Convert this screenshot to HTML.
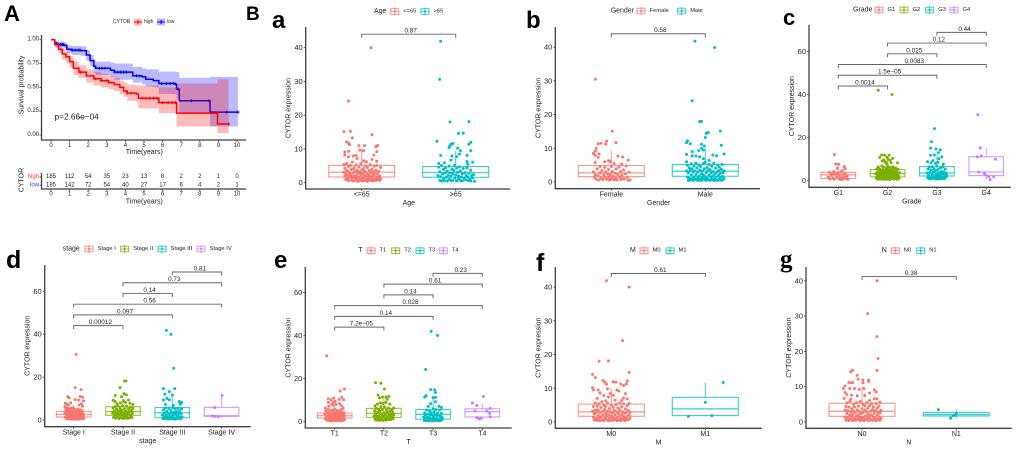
<!DOCTYPE html>
<html lang="en">
<head>
<meta charset="utf-8">
<title>CYTOR survival and expression panels</title>
<style>
html,body{margin:0;padding:0;background:#fff;width:1020px;height:450px;overflow:hidden}
svg{position:absolute;left:0;top:0;filter:blur(.3px)}
text{font-family:"Liberation Sans",sans-serif;fill:#1c1c1c}
</style>
</head>
<body>
<svg id="figure" xmlns="http://www.w3.org/2000/svg" width="1020" height="450" viewBox="0 0 1020 450">
<g style="font-weight:bold">
<text x="4" y="21" font-size="22" style="fill:#000;font-weight:bold">A</text>
<text x="246" y="20" font-size="19" style="fill:#000;font-weight:bold">B</text>
<text x="272" y="28" font-size="24" style="fill:#000;font-weight:bold">a</text>
<text x="526" y="28" font-size="24" style="fill:#000;font-weight:bold">b</text>
<text x="783" y="25" font-size="22" style="fill:#000;font-weight:bold">c</text>
<text x="6" y="268" font-size="25" style="fill:#000;font-weight:bold">d</text>
<text x="274" y="268" font-size="24" style="fill:#000;font-weight:bold">e</text>
<text x="536" y="271" font-size="25" style="fill:#000;font-weight:bold">f</text>
<text x="780" y="267" font-size="25" style="fill:#000;font-weight:bold;font-family:'Liberation Serif',serif">g</text>
</g>
</svg>
<script>
/* ---------- Panel A: survival data ---------- */
const lowTimes=[0,.2,.3,.7,.85,1.1,1.6,1.9,2.1,2.3,2.4,3.2,3.4,4.4,4.9,5.1,5.5,5.8,6.7,6.75,6.9,8.55,10.05];
const lowSurvival=[1,.97,.95,.94,.90,.89,.885,.84,.78,.72,.70,.68,.66,.62,.61,.585,.57,.54,.53,.48,.36,.24,.24];
const lowUpper=[1,.99,.98,.97,.94,.935,.93,.89,.84,.79,.77,.76,.75,.715,.70,.69,.69,.665,.665,.66,.60,.61,.61];
const lowLower=[1,.95,.92,.91,.86,.84,.83,.78,.72,.65,.63,.61,.58,.55,.53,.51,.50,.43,.42,.37,.23,.09,.09];
const highTimes=[0,.2,.4,.6,.8,1,1.2,1.5,1.9,2.3,2.7,3.1,3.4,3.7,3.9,4.1,4.6,4.7,5.8,6.75,8.95,9.55];
const highSurvival=[1,.95,.9,.85,.82,.77,.70,.66,.62,.59,.57,.55,.53,.50,.46,.44,.43,.385,.34,.23,.115,.115];
const highUpper=[1,.97,.94,.9,.87,.83,.77,.73,.69,.66,.64,.62,.60,.57,.55,.53,.52,.52,.50,.54,.585,.585];
const highLower=[1,.92,.86,.79,.76,.71,.63,.60,.55,.52,.50,.48,.46,.43,.40,.36,.34,.28,.23,.09,.02,.02];
const lowCensors=[.4,.5,.6,.65,1.15,1.3,1.45,1.55,2.6,2.75,2.9,3.45,3.6,3.75,3.9,4.05,4.6,4.75,5.95,6.2,6.4,6.6,6.85,7.55,8.5,9.45,10.05];
const highCensors=[1.6,2.4,2.7,3,4.1,4.3,4.9,5.1,5.3,5.5,5.7,6,6.3,6.5,6.7,9.55];
const survivalXTicks=[0,1,2,3,4,5,6,7,8,9,10];
const survivalYTicks=[0,.25,.5,.75,1];
const riskHigh=[185,112,54,35,23,13,8,2,2,1,0];
const riskLow=[185,142,72,54,40,27,17,6,4,2,1];

/* ---------- Panel a: Age ---------- */
const ageCats=["<=65",">65"];
const ageYTicks=[0,10,20,30,40];
const ageBox=[[.3,1.7,3.1,5.1,10],[.3,1.6,3,4.8,9.4]];
const ageBrackets=[[0,1,44,"0.87"]];
const ageYoung=[[.1,40],[-.14,24.2],[-.19,15.1],[-.12,15.2],[.11,14.2],[-.1,13.3],[-.16,12.1],[-.14,11.7],[-.13,11.3],[-.03,11],[.03,11],[.16,10.9],[.17,11],[.15,10.6],[-.14,9.3],[-.18,9.1],[-.02,9.7],[.02,9.5],[.16,9.2],[-.18,8.2],[-.14,7.7],[-.09,7.9],[-.06,8.1],[.13,8.2],[-.05,7.2],[.11,6.9],[.02,6.5],[.05,6.2],[.16,6.4],
[-.19,5.4],[-.19,3.1],[-.18,1.9],[-.18,4.3],[-.17,2.6],[-.17,.9],[-.16,5.7],[-.16,3.6],[-.15,1.3],[-.15,2.2],[-.14,4.8],[-.14,.6],[-.13,3],[-.13,1.7],[-.12,5.1],[-.12,2.4],[-.11,.8],[-.11,3.9],[-.1,1.4],[-.1,6.1],[-.09,2.9],[-.09,.5],[-.08,4.4],[-.08,1.9],[-.07,3.3],[-.07,.7],[-.06,5.3],[-.06,2.1],[-.05,1.2],[-.05,3.7],[-.04,.4],[-.04,2.7],[-.03,4.6],[-.03,1.6],[-.02,3.1],[-.02,.6],[-.01,5.6],[-.01,2.3],[0,1.1],[0,3.8],[.01,.5],[.01,2.6],[.02,4.2],[.02,1.5],[.03,3.4],[.03,.7],[.04,5],[.04,2],[.05,1],[.05,3],[.06,.4],[.06,4.5],[.07,2.4],[.07,1.3],[.08,3.6],[.08,.8],[.09,5.4],[.09,1.8],[.1,2.8],[.1,.6],[.11,4],[.11,1.2],[.12,3.2],[.12,.5],[.13,2.2],[.13,4.9],[.14,1],[.14,2.9],[.15,.7],[.15,3.7],[.16,1.6],[.16,5.1],[.17,2.5],[.17,.9],[.18,1.3],[.18,3.4],[.19,.7],[.19,2],[.2,1.1],[.2,4.5],[-.11,2.1],[-.07,1.5],[-.04,3.3],[-.01,1.3],[.03,2.2],[.06,1.7],[.09,3.3],[.12,2.1],[-.15,3.5],[-.09,4.1]];
const ageOld=[[-.16,41.9],[-.17,30.6],[-.06,18],[.14,18.1],[.03,14.6],[.08,14.7],[-.2,12.3],[.16,12],[.14,11.4],[-.03,11.6],[-.05,11.4],[-.06,11],[-.07,10.4],[.02,10.2],[.05,9.5],[.16,9.5],[-.16,8.1],[.04,8.5],[.12,8.1],[-.04,7.9],[.01,7.7],[-.05,6.7],[.12,6.3],[.18,6.1],[.13,5.5],[-.12,5.9],[-.18,5.7],
[-.19,2.1],[-.18,4.6],[-.17,.7],[-.17,3.2],[-.16,1.8],[-.15,5.1],[-.15,.5],[-.14,2.6],[-.13,3.9],[-.13,1.2],[-.12,.6],[-.11,2.9],[-.11,4.4],[-.1,1.6],[-.09,.5],[-.09,3.4],[-.08,2.2],[-.07,4.9],[-.07,1],[-.06,3],[-.05,.7],[-.05,1.9],[-.04,4],[-.03,2.6],[-.03,.6],[-.02,3.6],[-.01,1.4],[-.01,5.2],[0,2.3],[.01,.5],[.01,4.3],[.02,3.1],[.03,1.1],[.03,2],[.04,4.7],[.05,.7],[.05,3.5],[.06,1.7],[.07,2.6],[.07,.5],[.08,4.2],[.09,1.3],[.1,3],[.1,.9],[.11,2.1],[.12,4.4],[.13,.6],[.13,1.7],[.14,2.8],[.15,1],[.16,3.7],[.16,.5],[.17,2.1],[.18,1.4],[.19,2.4],[.2,.4]];

/* ---------- Panel b: Gender ---------- */
const genderCats=["Female","Male"];
const genderYTicks=[0,10,20,30,40];
const genderBox=[[.3,1.6,2.7,4.9,9.3],[.3,1.7,3.2,5.2,10]];
const genderBrackets=[[0,1,44,"0.58"]];
const genderFemale=[[-.17,30.5],[.01,15.1],[-.05,12.1],[.05,11.7],[-.06,11.2],[-.11,11.5],[-.14,11.3],[-.16,10],[-.17,9.2],[-.19,8.5],[-.13,8.3],[-.17,7.9],[-.14,7.3],[.12,7.4],[.07,7.7],[.18,6.5],[-.17,5.8],[-.07,6],[-.03,6.3],[-.01,6.1],[.03,5.5],[.11,5.3],
[-.19,3],[-.18,1.4],[-.17,2.1],[-.16,.8],[-.15,3.9],[-.14,1.9],[-.13,.6],[-.12,4.6],[-.12,2.7],[-.11,1.2],[-.1,3.4],[-.09,.7],[-.08,2.1],[-.07,4.3],[-.07,1.4],[-.06,3],[-.05,.8],[-.04,2.4],[-.03,1.5],[-.03,3.7],[-.02,.6],[-.01,2.2],[0,4.6],[0,1],[.01,3.1],[.02,1.7],[.03,.7],[.04,2.6],[.05,3.9],[.05,1.2],[.06,.6],[.07,2.2],[.08,4.4],[.09,1.5],[.1,3.1],[.1,.7],[.11,2],[.12,1],[.13,3.6],[.14,.9],[.15,2.4],[.16,4.8],[.17,1.4],[.18,.5],[.19,2.9],[.2,.6]];
const genderMale=[[-.11,41.8],[.1,39.9],[-.14,24.1],[-.06,17.9],[-.04,18],[.16,15.1],[.02,14.6],[.01,14.4],[.03,14.7],[0,13.2],[-.19,12.2],[-.2,11.7],[-.16,11.4],[-.04,11.2],[.17,10.9],[-.01,10.7],[-.04,10],[-.14,9],[-.07,9.3],[-.02,9.5],[-.2,8.2],[-.14,7.8],[-.1,7.7],[.08,8],[.12,7.8],[.2,8.3],[-.06,7.5],[-.02,6.9],[.04,6.4],
[-.2,6],[-.2,3.3],[-.19,1.5],[-.19,5],[-.18,.5],[-.18,2.7],[-.17,4.2],[-.17,1.1],[-.16,3.4],[-.16,.6],[-.15,5.4],[-.15,2.1],[-.14,1],[-.14,3.9],[-.13,.5],[-.13,2.9],[-.12,4.7],[-.12,1.5],[-.11,.8],[-.11,3.3],[-.1,5.6],[-.1,2.2],[-.09,.6],[-.09,4.2],[-.08,1.3],[-.08,2.9],[-.07,5.1],[-.07,.5],[-.06,3.6],[-.06,1.8],[-.05,.9],[-.05,4.6],[-.04,2.5],[-.04,.5],[-.03,3.3],[-.03,1.3],[-.02,5.5],[-.02,2.1],[-.01,.7],[-.01,3.9],[0,1.6],[0,5.9],[.01,.5],[.01,2.8],[.02,4.3],[.02,1.1],[.03,3.4],[.03,.7],[.04,5.2],[.04,2],[.05,.5],[.05,3.7],[.06,1.4],[.06,2.7],[.07,4.7],[.07,.8],[.08,3.1],[.08,1.8],[.09,.5],[.09,5.6],[.1,2.4],[.1,1],[.11,4.1],[.11,.6],[.12,2.9],[.12,1.5],[.13,5],[.13,.5],[.14,3.4],[.14,2],[.15,.8],[.15,4.4],[.16,1.3],[.16,2.6],[.17,.5],[.17,3.8],[.18,1.7],[.18,5.2],[.19,.7],[.19,2.8],[.2,1.1],[.2,3.3]];

/* ---------- Panel c: Grade ---------- */
const gradeCats=["G1","G2","G3","G4"];
const gradeYTicks=[0,20,40,60];
const gradeBox=[[.2,.8,2.6,3.7,7],[.2,1.6,3.1,5,10],[.3,2,3.4,6.4,12],[.3,2.2,3.9,11,15]];
const gradeBrackets=[[2,3,69,"0.44"],[1,3,64,"0.12"],[1,2,59,"0.025"],[0,3,54,"0.0083"],[0,2,49,"1.5e\u221205"],[0,1,44,"0.0014"]];
const gradeOne=[[-.08,12],[-.05,7.6],[.01,7.5],[-.18,3.7],[.12,6.4],[.14,5.4],[-.02,5.6],[-.09,4.1],[.08,4.5],[-.2,1.5],[-.17,.6],[-.14,2.3],[-.11,1.1],[-.08,.5],[-.06,2.8],[-.03,1.6],[-.01,3.4],[.02,.7],[.03,2.2],[.05,3.9],[.07,1.2],[.09,.5],[.1,2.7],[.12,1.5],[.14,3.1],[.16,.8],[.18,2],[.2,.5],[-.12,3.3],[.04,.4]];
const gradeTwo=[[-.19,42],[.09,40],[-.12,11.8],[-.06,11.7],[.03,11.7],[-.16,10.7],[-.01,10.7],[-.08,9.5],[.01,9.8],[-.03,7.9],[.07,8.2],[.2,8.1],[-.11,9],[-.05,8.7],[.05,9.3],[.1,10.2],
[-.24,3.1],[-.23,1.1],[-.22,5.3],[-.21,2.2],[-.2,.5],[-.2,4],[-.19,6.2],[-.18,1.7],[-.17,3.2],[-.16,.6],[-.16,5.1],[-.15,2.5],[-.14,4.2],[-.13,1.1],[-.12,6.6],[-.12,3],[-.11,.5],[-.1,5],[-.1,1.9],[-.09,3.8],[-.08,.9],[-.08,6.2],[-.07,2.7],[-.06,4.6],[-.05,1.3],[-.05,.4],[-.04,3.4],[-.03,5.6],[-.03,2],[-.02,.7],[-.01,4.3],[-.01,1.3],[0,6.7],[0,3],[.01,.5],[.01,5],[.02,2.1],[.03,3.9],[.03,1],[.04,6],[.05,2.7],[.05,.4],[.06,4.7],[.07,1.5],[.07,3.4],[.08,.8],[.09,5.6],[.09,2.2],[.1,4],[.11,1],[.11,6.2],[.12,3],[.13,.5],[.13,5],[.14,1.9],[.15,3.7],[.16,.9],[.16,5.8],[.17,2.6],[.18,4.3],[.19,1.3],[.2,.5],[.2,3.2],[.21,5.2],[.22,2],[.23,.9],[.24,3.6]];
const gradeThree=[[-.05,24.1],[-.11,18],[-.13,15],[-.02,14.6],[.07,14.2],[.03,12.9],[-.13,11.7],[-.05,11.8],[.1,11],[-.19,8.7],[-.12,8.2],[-.03,7.9],[.13,7.5],[-.08,9.2],[.04,10.1],[.02,8.4],
[-.2,3.4],[-.19,1.3],[-.18,5.2],[-.17,2.4],[-.16,.8],[-.15,6.2],[-.14,3.7],[-.13,1.6],[-.12,4.8],[-.11,.7],[-.1,2.8],[-.09,6.4],[-.08,1.2],[-.07,3.9],[-.06,5.4],[-.05,2.1],[-.04,.7],[-.03,4.4],[-.02,1.6],[-.01,3],[0,6.6],[0,.6],[.01,2.3],[.02,5],[.03,1.2],[.04,3.6],[.05,.6],[.06,2.6],[.07,5.8],[.08,1.6],[.09,4.1],[.1,.8],[.11,3],[.12,6.2],[.13,1.7],[.14,3.9],[.15,.8],[.16,2.7],[.17,5.2],[.18,1.4],[.19,3.3],[.2,2.1]];
const gradeFour=[[-.17,30.6],[-.12,15.1],[-.18,10.9],[-.1,11.4],[.19,9.8],[-.15,3.9],[-.04,3.3],[-.01,2.5],[.05,1.7],[.15,1.6],[.08,.3],[-.03,3]];

/* ---------- Panel d: stage ---------- */
const stageCats=["Stage I","Stage II","Stage III","Stage IV"];
const stageYTicks=[0,20,40,60];
const stageBox=[[.3,1.4,2.6,4,7],[.4,2.2,3.9,6.2,10],[.3,1.1,3.4,5.8,11.5],[1.6,1.7,2,5.9,11.7]];
const stageBrackets=[[2,3,69,"0.81"],[1,3,64,"0.73"],[1,2,59,"0.14"],[0,3,54,"0.56"],[0,2,49,"0.097"],[0,1,44,"0.00012"]];
const stageOne=[[.05,30.6],[.03,15.1],[.15,14.2],[-.12,10.9],[-.09,10.3],[.13,11],[.18,10.6],[.03,9.5],[.1,9.3],[.2,9],[-.17,7.8],[-.11,7],[.11,7],[-.15,7.4],[.16,7.6],[-.06,8],[.18,6.4],[-.18,6.2],
[-.18,3.2],[-.17,1.3],[-.16,4.9],[-.15,2.4],[-.14,.6],[-.14,3.9],[-.13,5.6],[-.12,1.6],[-.11,3],[-.1,.5],[-.1,4.6],[-.09,2.1],[-.08,5.3],[-.07,1],[-.07,3.6],[-.06,.4],[-.05,2.7],[-.05,4.4],[-.04,1.4],[-.03,5.6],[-.03,.6],[-.02,3.1],[-.01,2],[-.01,.4],[0,4.2],[0,1.2],[.01,2.8],[.02,5.2],[.02,.6],[.03,1.8],[.04,3.6],[.05,.4],[.05,2.5],[.06,4.6],[.07,1.1],[.07,3.2],[.08,.6],[.09,2.1],[.09,5],[.1,1.3],[.11,3.9],[.11,.4],[.12,2.7],[.13,1.5],[.13,4.8],[.14,.6],[.15,3.3],[.16,2],[.16,.9],[.17,4.2],[.18,1.4],[.18,.5],[.19,3],[.2,2],[.2,.7]];
const stageTwo=[[.03,18.2],[.06,18.2],[-.06,15.1],[.02,12.3],[-.16,11.4],[-.03,10.9],[.07,11.7],[-.2,9.2],[-.16,8.6],[.01,9],[.11,9.3],[.2,7.2],[-.12,7.6],[-.05,8],[.05,8.2],[.14,7.8],
[-.21,3.2],[-.2,5.6],[-.19,1.2],[-.18,4.2],[-.17,2.4],[-.16,6.2],[-.15,.8],[-.14,3.4],[-.13,5],[-.12,1.6],[-.11,2.8],[-.1,6.6],[-.09,4.2],[-.08,.7],[-.07,2.2],[-.06,5.4],[-.05,3.4],[-.04,1.1],[-.03,4.6],[-.02,2.5],[-.01,6.6],[0,.7],[.01,3.6],[.02,1.7],[.03,5.2],[.04,2.8],[.05,.9],[.06,4.2],[.07,6.4],[.08,2],[.09,3.2],[.1,.8],[.11,5.2],[.12,2.6],[.13,3.9],[.14,1.1],[.15,6],[.16,2.2],[.17,4.4],[.18,1.2],[.19,3.2],[.2,5.4]];
const stageThree=[[-.12,41.8],[-.03,40],[.03,24.1],[-.18,14.6],[.05,14.6],[-.06,13.2],[-.15,12],[0,11.7],[-.18,9.3],[-.11,10.1],[.14,8.6],[.19,8.2],[-.06,9.4],[.16,7.4],[-.14,7.2],[.02,6.8],
[-.2,2.4],[-.19,.7],[-.18,4.7],[-.17,1.4],[-.16,3.3],[-.15,.5],[-.14,5.6],[-.13,2.2],[-.12,.9],[-.11,4],[-.1,1.6],[-.09,.4],[-.08,3],[-.07,5.4],[-.06,1.1],[-.05,2.5],[-.04,.5],[-.03,4.4],[-.02,1.7],[-.01,3.4],[0,.5],[.01,5.6],[.02,2.2],[.03,1],[.04,3.5],[.05,.4],[.06,5.1],[.07,2.6],[.08,1.1],[.09,3.9],[.1,.5],[.11,1.8],[.12,5.4],[.13,2.9],[.14,.8],[.15,4.2],[.16,1.5],[.17,.5],[.18,3],[.19,5.2],[.2,1.4]];
const stageFour=[[.01,11.5],[-.14,5.8],[-.19,1.9],[-.14,1.7],[-.07,1.6]];

/* ---------- Panel e: T ---------- */
const tCats=["T1","T2","T3","T4"];
const tYTicks=[0,20,40,60];
const tBox=[[.3,1.7,2.8,4,7],[.4,2,3.9,6.2,11],[.3,1.2,3.4,5.7,11],[1.2,2.2,4.7,6,8.5]];
const tBrackets=[[2,3,69,"0.23"],[1,3,64,"0.61"],[1,2,59,"0.14"],[0,3,54,"0.028"],[0,2,49,"0.14"],[0,1,44,"7.2e\u221205"]];
const tOne=[[-.16,30.6],[.2,15.2],[.11,14.3],[.14,11.4],[-.02,11],[-.13,10.6],[-.07,10.1],[.09,10.3],[.18,10.2],[.01,9.5],[-.13,9],[-.06,8.2],[-.03,7.6],[-.12,7.2],[.1,8.4],[.03,8],[.14,7.4],[-.19,6.4],[.17,6.2],[-.02,9],
[-.2,3.6],[-.19,1.4],[-.18,5],[-.17,2.5],[-.16,.7],[-.15,4.1],[-.14,1.7],[-.13,5.7],[-.12,3],[-.11,.5],[-.11,2.1],[-.1,4.6],[-.09,1.1],[-.08,3.6],[-.07,.4],[-.07,2.6],[-.06,5.4],[-.05,1.5],[-.04,3.2],[-.03,.6],[-.03,4.6],[-.02,2.1],[-.01,1.1],[0,3.6],[0,5.8],[.01,.5],[.02,2.6],[.02,4.2],[.03,1.4],[.04,3.1],[.05,.5],[.05,5.2],[.06,2],[.07,3.9],[.07,.9],[.08,1.6],[.09,2.9],[.09,4.8],[.1,.5],[.11,2.3],[.12,3.7],[.12,1.1],[.13,5.6],[.14,.5],[.15,2.8],[.15,4.4],[.16,1.4],[.17,3.2],[.18,.7],[.18,2],[.19,4.1],[.2,1.1],[.2,2.8]];
const tTwo=[[-.17,18.2],[-.06,17.9],[.01,15.2],[-.12,12.4],[-.03,11.5],[.04,11.5],[.1,11.8],[-.09,11.1],[.07,10.4],[-.13,8.2],[-.07,8.8],[-.02,8.4],[.04,9],[.12,8.2],[.2,6.4],[-.18,7.4],
[-.2,2.6],[-.19,5],[-.18,1.1],[-.17,3.6],[-.16,6.2],[-.15,.7],[-.14,2.4],[-.13,4.4],[-.12,1.4],[-.11,5.8],[-.1,3],[-.09,.6],[-.08,4.8],[-.07,2],[-.06,7],[-.05,1.1],[-.04,3.4],[-.03,5.6],[-.02,.6],[-.01,2.4],[0,4.2],[.01,6.8],[.02,1.4],[.03,3.2],[.04,.7],[.05,5.3],[.06,2.2],[.07,4.2],[.08,1.1],[.09,6.4],[.1,3],[.11,.9],[.12,5],[.13,2.2],[.14,3.6],[.15,1],[.16,5.6],[.17,2.4],[.18,4.4],[.19,1.5],[.2,3.1]];
const tThree=[[-.04,42],[.09,40.1],[-.15,24.3],[-.05,14.9],[.03,14.8],[.05,13.5],[-.14,12.1],[-.17,11.5],[0,11.2],[.05,9.3],[.05,11.3],[-.05,8.4],[.12,7.2],[.17,6.6],[-.1,7.1],
[-.19,2.2],[-.18,.6],[-.17,4.1],[-.16,1.4],[-.15,3],[-.14,.5],[-.13,5.4],[-.12,2],[-.11,.9],[-.1,3.6],[-.09,.4],[-.08,1.6],[-.07,5],[-.06,2.8],[-.05,.7],[-.04,4.2],[-.03,1.4],[-.02,.4],[-.01,3.1],[0,6],[0,1],[.01,2.1],[.02,4.6],[.03,.5],[.04,3.3],[.05,1.3],[.06,5.6],[.07,.6],[.08,2.5],[.09,4],[.1,1],[.11,.4],[.12,3],[.13,5.4],[.14,1.5],[.15,.6],[.16,2.4],[.17,3.9],[.18,.9],[.19,1.8]];
const tFour=[[.02,11.7],[-.2,8.7],[-.11,7.6],[.16,6.2],[-.15,5],[.09,5],[.15,3.9],[.16,2.3],[-.11,1.9],[-.06,1.2],[-.02,1.6]];

/* ---------- Panel f: M ---------- */
const mCats=["M0","M1"];
const mYTicks=[0,10,20,30,40];
const mBox=[[.3,1.7,3,5.3,10],[1.7,1.9,3.9,7.3,11.7]];
const mBrackets=[[0,1,44,"0.61"]];
const mZero=[[-.05,41.9],[.19,40],[.12,24.1],[-.13,18],[-.03,18.1],[.19,14.7],[-.2,14.1],[-.17,13.2],[.17,12.2],[-.09,12.3],[-.07,11.8],[-.05,11.2],[.02,11.9],[.05,11.8],[.1,11.3],[.16,11.3],[.13,10.8],[-.2,10.2],[-.19,9.5],[-.14,9.5],[-.04,9.8],[.06,9.5],[.08,9.2],[-.12,8.6],[-.01,8.4],[.15,8.4],[-.08,7.8],[-.03,7.4],[.02,7.9],[.13,7.1],[.17,6.8],[-.15,7],[.11,6.4],[-.06,6.3],[.04,6.5],
[-.2,3.2],[-.19,1.4],[-.19,4.6],[-.18,.6],[-.18,2.4],[-.17,5.6],[-.17,3.6],[-.16,1],[-.16,2.9],[-.15,4.7],[-.15,.5],[-.14,2],[-.14,3.6],[-.13,5.4],[-.13,1.2],[-.12,.4],[-.12,2.8],[-.11,4.3],[-.11,1.6],[-.1,6],[-.1,.7],[-.09,3.2],[-.09,2.1],[-.08,5],[-.08,.4],[-.07,1.2],[-.07,3.7],[-.06,2.5],[-.06,4.6],[-.05,.7],[-.05,1.7],[-.04,3.2],[-.04,5.6],[-.03,.4],[-.03,2.2],[-.02,4],[-.02,1.1],[-.01,3],[-.01,.6],[0,5],[0,1.8],[.01,2.7],[.01,.4],[.02,4.4],[.02,1.2],[.03,3.5],[.03,.7],[.04,2.2],[.05,5.2],[.05,1],[.06,.4],[.06,3],[.07,4.2],[.07,1.6],[.08,.6],[.08,2.5],[.09,5.6],[.09,3.6],[.1,1.1],[.1,.4],[.11,2.1],[.11,4.5],[.12,3],[.12,.8],[.13,1.6],[.13,5.4],[.14,.4],[.14,2.6],[.15,3.9],[.15,1.1],[.16,.6],[.16,2.9],[.17,4.8],[.17,1.7],[.18,.7],[.18,3.4],[.19,2.1],[.19,5.5],[.2,1.1],[.2,2.9]];
const mOne=[[.19,11.7],[0,5.8],[-.18,1.7],[.07,1.9]];

/* ---------- Panel g: N ---------- */
const nCats=["N0","N1"];
const nYTicks=[0,10,20,30,40];
const nBox=[[.3,1.6,3,5.3,10],[1.1,1.7,2.1,2.7,3.5]];
const nBrackets=[[0,1,41.2,"0.38"]];
const nZero=[[.16,40],[.06,30.7],[.16,24.2],[.17,18],[.16,14.6],[-.1,14.7],[-.12,14.2],[-.05,13.2],[-.04,12.1],[.01,11.9],[.07,11.9],[.07,11.5],[-.14,11.2],[-.12,11.1],[-.1,11.2],[.01,11.1],[-.18,10.2],[-.2,9.5],[-.13,9.5],[-.08,9.5],[-.03,9.2],[.02,9.5],[.13,9.1],[.15,8.5],[.08,8.2],[-.18,8.4],[-.16,7.8],[-.11,7.6],[-.05,7.4],[.03,7.5],[-.19,6.7],[-.12,6.4],[.13,6.6],[.16,6.5],[.08,6.1],[.19,5.6],
[-.18,3.4],[-.18,1.4],[-.17,4.4],[-.17,.5],[-.16,2.4],[-.16,5.4],[-.15,1.1],[-.15,3.2],[-.14,.4],[-.14,4.2],[-.13,1.9],[-.13,5.8],[-.12,2.9],[-.12,.8],[-.11,3.8],[-.11,1.4],[-.1,.4],[-.1,2.2],[-.09,5],[-.09,3.1],[-.08,1],[-.08,4.2],[-.07,.5],[-.07,2.6],[-.06,1.6],[-.06,5.5],[-.05,3.4],[-.05,.7],[-.04,2],[-.04,4.5],[-.03,1.1],[-.03,3],[-.02,.4],[-.02,5.8],[-.01,2.4],[-.01,1.4],[0,3.8],[0,.7],[.01,5],[.01,2.7],[.02,1.2],[.02,.4],[.03,3.4],[.03,4.6],[.04,1.8],[.04,.7],[.05,2.8],[.05,5.5],[.06,1.1],[.06,3.9],[.07,.4],[.07,2.2],[.08,4.6],[.08,1.4],[.09,3],[.09,.7],[.1,5.1],[.1,2],[.11,.5],[.11,3.5],[.12,1.4],[.12,4.3],[.13,2.5],[.13,.6],[.14,3.2],[.14,1.1],[.15,.4],[.15,5.2],[.16,2],[.16,3.9],[.17,.7],[.17,2.8],[.18,1.4],[.18,4.5],[.19,.5],[.19,2.5],[.2,1],[.2,3.3]];
const nOne=[[-.19,3.5],[-.06,1.1],[-.02,2],[0,2.3],[-.03,1.8]];

/* ---------- Drawing ---------- */
const SVG_NS="http://www.w3.org/2000/svg";
const root=document.getElementById("figure");
const AXIS_COLOR="#3f3f3f";
const GGPLOT2=["#F8766D","#00BFC4"];
const GGPLOT4=["#F8766D","#7CAE00","#00BFC4","#C77CFF"];

function svgEl(parent,tag,props){
  const el=document.createElementNS(SVG_NS,tag);
  for(const k in props)el.setAttribute(k,props[k]);
  parent.appendChild(el);
  return el;
}
function addLine(parent,x1,y1,x2,y2,color,width){
  return svgEl(parent,"line",{x1:x1,y1:y1,x2:x2,y2:y2,stroke:color,"stroke-width":width});
}
function addText(parent,x,y,str,size,anchor,color,rotate){
  const t=svgEl(parent,"text",{x:x,y:y,"font-size":size,"text-anchor":anchor||"start","dominant-baseline":"central"});
  if(color)t.style.fill=color;
  if(rotate)t.setAttribute("transform","rotate(-90 "+x+" "+y+")");
  t.textContent=str;
  return t;
}

/* Panel A survival curves */
const survX=t=>51+18.6*t;
const survY=s=>135-95.3*s;
function stepPoints(times,vals){
  const pts=[];
  times.forEach((t,i)=>{
    if(i>0)pts.push([survX(t),survY(vals[i-1])]);
    pts.push([survX(t),survY(vals[i])]);
  });
  return pts;
}
function stepValue(times,vals,t){
  let v=vals[0];
  times.forEach((k,i)=>{if(k<=t)v=vals[i];});
  return v;
}
function drawSurvivalSeries(g,label,color,times,surv,upper,lower,censors){
  const top=stepPoints(times,upper);
  const bot=stepPoints(times,lower).reverse();
  const band=svgEl(g,"polygon",{points:top.concat(bot).map(p=>p.join(",")).join(" "),fill:color,"fill-opacity":.27,stroke:"none"});
  
  
  const line=svgEl(g,"polyline",{points:stepPoints(times,surv).map(p=>p.join(",")).join(" "),fill:"none",stroke:color,"stroke-width":1.5});
  
  
  censors.forEach(t=>{
    const x=survX(t),y=survY(stepValue(times,surv,t));
    const c=svgEl(g,"path",{d:"M"+(x-1.6)+" "+y+"H"+(x+1.6)+"M"+x+" "+(y-1.6)+"V"+(y+1.6),stroke:color,"stroke-width":1,fill:"none"});
    
    
  });
}
function drawSurvivalPanel(){
  const g=svgEl(root,"g",{});
  
  

  const legend=svgEl(g,"g",{});
  
  
  addText(legend,113,22,"CYTOR",5,"start");
  [["high","#ff0000",134,144],["low","#0000ff",157,167]].forEach(e=>{
    const k=svgEl(legend,"rect",{x:e[2],y:18.5,width:8,height:7,fill:e[1],"fill-opacity":.27});
    
    
    addLine(legend,e[2],22,e[2]+8,22,e[1],1);
    addLine(legend,e[2]+4,20,e[2]+4,24,e[1],1);
    const lab=addText(legend,e[3],22,e[0],5,"start");
    
    
  });

  drawSurvivalSeries(g,"low","#0000ff",lowTimes,lowSurvival,lowUpper,lowLower,lowCensors);
  drawSurvivalSeries(g,"high","#ff0000",highTimes,highSurvival,highUpper,highLower,highCensors);

  const yAxis=addLine(g,41.5,35,41.5,140.5,AXIS_COLOR,1.3);
  
  
  const xAxis=addLine(g,41,140,246,140,AXIS_COLOR,1.3);
  
  
  survivalYTicks.forEach(s=>{
    addLine(g,39.5,survY(s),41.5,survY(s),AXIS_COLOR,.8);
    const t=addText(g,39,survY(s),s.toFixed(2),6,"end");
    
    
  });
  survivalXTicks.forEach(v=>{
    addLine(g,survX(v),140,survX(v),142,AXIS_COLOR,.8);
    const t=addText(g,survX(v),146,String(v),6,"middle");
    
    
  });
  const xt=addText(g,144.3,152.7,"Time(years)",7,"middle");
  
  
  const yt=addText(g,22,85,"Survival probability",7,"middle",null,true);
  
  
  const p=addText(g,54.5,116.7,"p=2.66e\u221204",8.3,"start");
  
  

  /* risk table */
  const rt=svgEl(g,"g",{});
  
  
  addLine(rt,41.5,173,41.5,189.5,AXIS_COLOR,1.3);
  addLine(rt,41,189,246,189,AXIS_COLOR,1.3);
  addLine(rt,39.5,177,41.5,177,AXIS_COLOR,.8);
  addLine(rt,39.5,185.3,41.5,185.3,AXIS_COLOR,.8);
  addText(rt,39,177,"high",6,"end","#ff3030");
  addText(rt,39,185.3,"low",6,"end","#3030ff");
  addText(rt,22,180,"CYTOR",7,"middle",null,true);
  survivalXTicks.forEach((v,i)=>{
    addLine(rt,survX(v),189,survX(v),191,AXIS_COLOR,.8);
    addText(rt,survX(v),194.5,String(v),6,"middle");
    const a=addText(rt,survX(v),177,String(riskHigh[i]),6,"middle");
    
    
    const b=addText(rt,survX(v),185.3,String(riskLow[i]),6,"middle");
    
    
  });
  addText(rt,144.3,202,"Time(years)",7,"middle");
}

/* Panels a-g box and jitter plots */
function drawBoxPanel(p){
  const g=svgEl(root,"g",{});
  
  
  const colors=p.cats.length===2?GGPLOT2:GGPLOT4;
  const yS=v=>p.zeroY-v*p.unit;
  const xS=i=>p.firstX+i*p.spacing;

  /* legend */
  const leg=svgEl(g,"g",{});
  
  
  addText(leg,p.legendTitleX,p.legendY,p.title,7,"start");
  p.cats.forEach((c,i)=>{
    const kx=p.legendKeys[i];
    const ky=p.legendY;
    const key=svgEl(leg,"g",{});
    
    
    svgEl(key,"rect",{x:kx,y:ky-2.8,width:8,height:5.6,fill:"#fff",stroke:colors[i],"stroke-width":.9,"stroke-opacity":.85});
    addLine(key,kx+4,ky-4,kx+4,ky+4,colors[i],.7);
    addLine(key,kx,ky,kx+8,ky,colors[i],.7);
    svgEl(key,"circle",{cx:kx+4,cy:ky,r:1.1,fill:colors[i]});
    const lab=addText(leg,kx+12.5,ky,c,5.8,"start");
    
    
  });

  /* boxes */
  p.box.forEach((b,i)=>{
    const cx=xS(i);
    const bg=svgEl(g,"g",{});
    
    
    const o=.78;
    const a=addLine(bg,cx,yS(b[0]),cx,yS(b[1]),colors[i],1);
    a.setAttribute("stroke-opacity",o);
    const c=addLine(bg,cx,yS(b[3]),cx,yS(b[4]),colors[i],1);
    c.setAttribute("stroke-opacity",o);
    svgEl(bg,"rect",{x:cx-p.boxHalf,y:yS(b[3]),width:2*p.boxHalf,height:yS(b[1])-yS(b[3]),fill:"none",stroke:colors[i],"stroke-width":1.1,"stroke-opacity":o});
    const m=addLine(bg,cx-p.boxHalf,yS(b[2]),cx+p.boxHalf,yS(b[2]),colors[i],1.2);
    m.setAttribute("stroke-opacity",o);
  });

  /* jitter points */
  p.groups.forEach((pts,i)=>{
    const pg=svgEl(g,"g",{});
    
    
    pts.forEach(pt=>{
      const d=svgEl(pg,"circle",{cx:xS(i)+pt[0]*p.jitterUnit,cy:yS(pt[1]),r:1.5,fill:colors[i]});
      
      
    });
  });

  /* comparison brackets */
  p.brackets.forEach(b=>{
    const x1=xS(b[0]),x2=xS(b[1]),y=yS(b[2]);
    const br=svgEl(g,"g",{});
    
    
    svgEl(br,"path",{d:"M"+x1+" "+(y+3.5)+"V"+y+"H"+x2+"V"+(y+3.5),fill:"none",stroke:"#666","stroke-width":.95});
    const tx=addText(br,(x1+x2)/2+2+(b[0]===2?1:0),y-3,b[3],6.4,"middle");
    
    
  });

  /* axes */
  const ya=addLine(g,p.left,p.top,p.left,p.bottom+.5,AXIS_COLOR,1.3);
  
  
  const xa=addLine(g,p.left-.5,p.bottom,p.right,p.bottom,AXIS_COLOR,1.3);
  
  
  p.yTicks.forEach(v=>{
    addLine(g,p.left-2,yS(v),p.left,yS(v),AXIS_COLOR,.8);
    const t=addText(g,p.left-3,yS(v),String(v),7.5,"end");
    
    
  });
  p.cats.forEach((c,i)=>{
    addLine(g,xS(i),p.bottom,xS(i),p.bottom+2,AXIS_COLOR,.8);
    const t=addText(g,xS(i),p.bottom+6.2,c,7,"middle");
    
    
  });
  const xT=addText(g,(p.left+p.right)/2+p.titleShift,p.bottom+14.6,p.title,7,"middle");
  
  
  const yT=addText(g,p.left-16.5,(p.top+p.bottom)/2,"CYTOR expression",7,"middle",null,true);
  
  
}

drawSurvivalPanel();
drawBoxPanel({id:"age",title:"Age",cats:ageCats,yTicks:ageYTicks,box:ageBox,brackets:ageBrackets,groups:[ageYoung,ageOld],
  left:305.7,right:510,top:27,bottom:189,zeroY:182.7,unit:3.375,firstX:361.7,spacing:94,boxHalf:33,jitterUnit:94,titleShift:1,legendTitleX:374,legendY:11.5,legendKeys:[390.7,421]});
drawBoxPanel({id:"gender",title:"Gender",cats:genderCats,yTicks:genderYTicks,box:genderBox,brackets:genderBrackets,groups:[genderFemale,genderMale],
  left:555.3,right:760,top:27,bottom:188.7,zeroY:182,unit:3.37,firstX:611.3,spacing:94,boxHalf:33,jitterUnit:94,titleShift:1,legendTitleX:610.7,legendY:11,legendKeys:[637,677.7]});
drawBoxPanel({id:"grade",title:"Grade",cats:gradeCats,yTicks:gradeYTicks,box:gradeBox,brackets:gradeBrackets,groups:[gradeOne,gradeTwo,gradeThree,gradeFour],
  left:809,right:1010.7,top:25,bottom:187.3,zeroY:180.3,unit:2.144,firstX:838.3,spacing:49.3,boxHalf:17.3,jitterUnit:49.3,titleShift:2,legendTitleX:853,legendY:10,legendKeys:[875,900,925.7,950]});
drawBoxPanel({id:"stage",title:"stage",cats:stageCats,yTicks:stageYTicks,box:stageBox,brackets:stageBrackets,groups:[stageOne,stageTwo,stageThree,stageFour],
  left:44.7,right:250.7,top:265,bottom:426.7,zeroY:420,unit:2.145,firstX:73.7,spacing:49.3,boxHalf:17.3,jitterUnit:49.3,titleShift:0,legendTitleX:62.7,legendY:249,legendKeys:[85,120.7,158,197]});
drawBoxPanel({id:"t",title:"T",cats:tCats,yTicks:tYTicks,box:tBox,brackets:tBrackets,groups:[tOne,tTwo,tThree,tFour],
  left:305.3,right:511.7,top:267,bottom:428,zeroY:421.7,unit:2.15,firstX:334.7,spacing:49.2,boxHalf:17.3,jitterUnit:49.2,titleShift:0,legendTitleX:358.3,legendY:250.7,legendKeys:[367,391.7,416,439.3]});
drawBoxPanel({id:"m",title:"M",cats:mCats,yTicks:mYTicks,box:mBox,brackets:mBrackets,groups:[mZero,mOne],
  left:555.3,right:761.7,top:267,bottom:428.3,zeroY:422,unit:3.375,firstX:611.3,spacing:94,boxHalf:33,jitterUnit:94,titleShift:0,legendTitleX:630,legendY:250.7,legendKeys:[640,666]});
drawBoxPanel({id:"n",title:"N",cats:nCats,yTicks:nYTicks,box:nBox,brackets:nBrackets,groups:[nZero,nOne],
  left:806,right:1011.7,top:267,bottom:428.3,zeroY:422,unit:3.53,firstX:862,spacing:94.3,boxHalf:33,jitterUnit:94.3,titleShift:0,legendTitleX:881.7,legendY:250.7,legendKeys:[891.3,916.7]});
</script>
</body>
</html>
